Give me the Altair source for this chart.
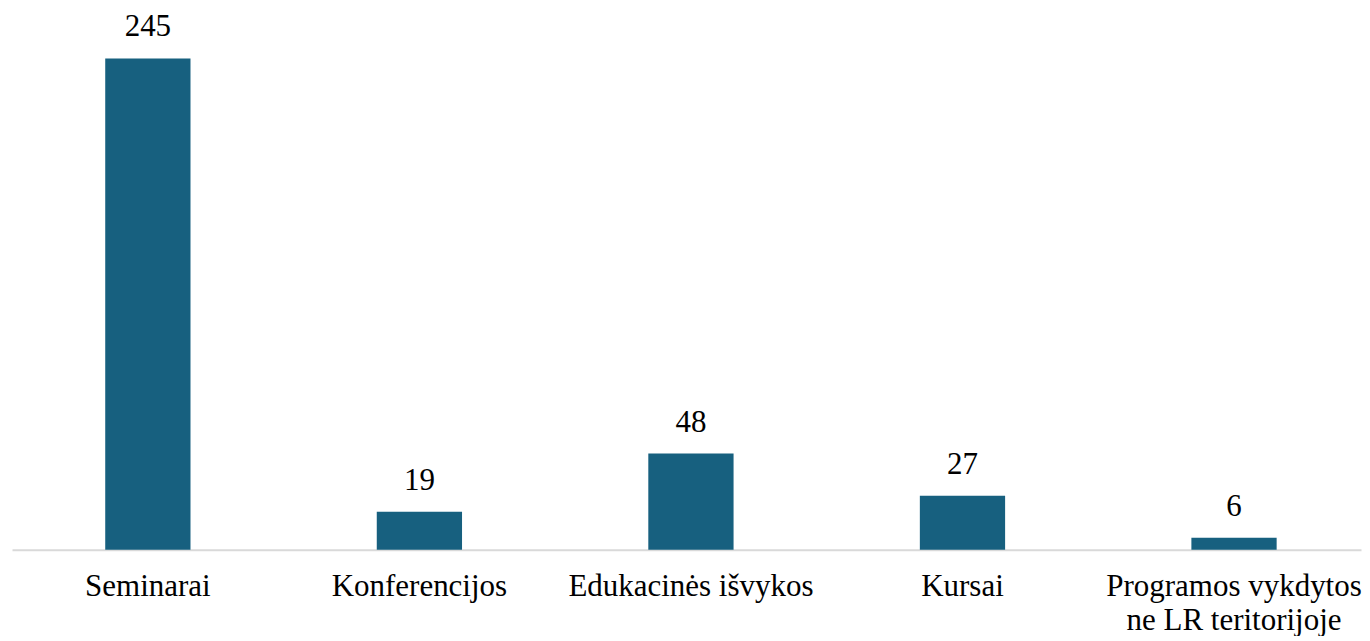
import altair as alt
import pandas as pd

categories = ["Seminarai", "Konferencijos", "Edukacinės išvykos", "Kursai", "Programos vykdytos\nne LR teritorijoje"]
values = [245, 19, 48, 27, 6]

df = pd.DataFrame({"cat": categories, "val": values})

x = alt.X("cat:N", sort=categories, title=None,
          scale=alt.Scale(paddingInner=0.686, paddingOuter=0.327, align=0.525),
          axis=alt.Axis(labelAngle=0, labelFont="Liberation Serif", labelFontSize=31,
                        labelColor="#000000", ticks=False, domainColor="#d9d9d9",
                        domainWidth=2, labelPadding=22, labelLineHeight=34,
                        labelExpr="split(datum.label, '\\n')", labelLimit=400))
y = alt.Y("val:Q", title=None, scale=alt.Scale(domain=[0, 270], nice=False), axis=None)

bars = alt.Chart(df).mark_bar(color="#17607F").encode(x=x, y=y)
text = alt.Chart(df).mark_text(font="Liberation Serif", fontSize=31, color="#000000",
                               baseline="bottom", dy=-15).encode(x=x, y=y, text="val:Q")

chart = (bars + text).properties(width=1350, height=542,
                                 padding={"left": 4, "top": 0, "right": 0, "bottom": 0}
                                 ).configure_view(stroke=None)
chart.save("out.html", embed_options={"renderer": "svg", "actions": False})
